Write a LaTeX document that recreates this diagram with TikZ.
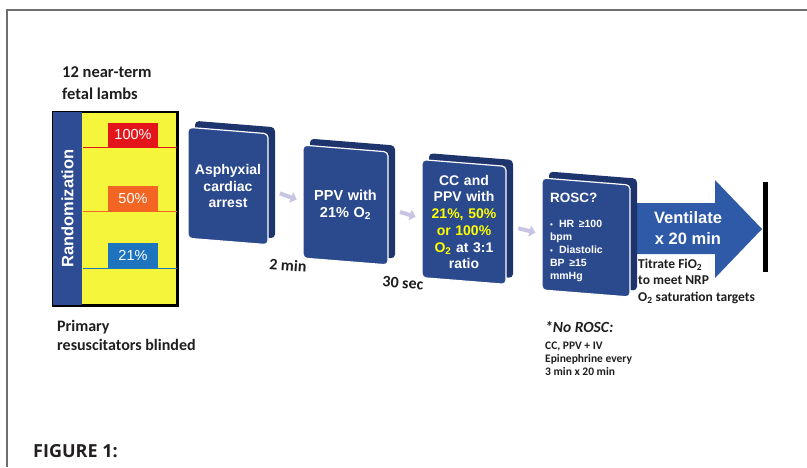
\documentclass[tikz,border=0pt]{standalone}
\usepackage{fontspec}
\setmainfont{Carlito}
\newfontfamily\arial{Liberation Sans}
\newfontfamily\figfont{Open Sans}
\usetikzlibrary{arrows.meta,calc}
\definecolor{cardblue}{RGB}{43,74,142}
\definecolor{slabblue}{RGB}{30,52,108}
\definecolor{arrowblue}{RGB}{46,90,168}
\definecolor{stripblue}{RGB}{46,76,148}
\definecolor{yel}{RGB}{245,245,60}
\definecolor{redc}{RGB}{227,21,27}
\definecolor{orc}{RGB}{242,101,34}
\definecolor{bluec}{RGB}{30,115,190}
\definecolor{lav}{RGB}{200,196,228}
\definecolor{framegray}{RGB}{110,110,110}
\definecolor{txt}{RGB}{30,30,30}
\definecolor{ytext}{RGB}{255,255,0}
\definecolor{figtxt}{RGB}{35,31,32}
\newcommand\mycard[5]{%
 \begin{scope}[shift={#2}, yslant=-0.08, transform shape]
  \node[slab, minimum width=#3pt, minimum height=#4pt] (#1s) at (7,-7) {};
  \node[card, minimum width=#3pt, minimum height=#4pt] (#1) at (0,0) {};
 \end{scope}
 \node[cardtxt] (#1t) at (#1.center) {#5};}
\begin{document}
\begin{tikzpicture}[x=1pt,y=-1pt,
  card/.style={fill=cardblue, draw=white, line width=1.2pt, rounded corners=4pt, inner sep=0pt},
  cardtxt/.style={inner sep=0pt, text=white, font=\arial\bfseries\fontsize{14}{16.5}\selectfont, align=center, text width=76pt},
  slab/.style={fill=slabblue, rounded corners=4pt, inner sep=0pt},
  lbl/.style={text=txt, font=\bfseries\fontsize{14}{19}\selectfont, align=left, inner sep=0pt},
  pbox/.style={minimum width=50pt, inner sep=0pt, text=white, font=\arial\fontsize{14.5}{15}\selectfont},
  conn/.style={lav, line width=4pt, -{Triangle[length=6pt,width=11pt]}, shorten <=12pt, shorten >=6pt},
]
\useasboundingbox (0,0) rectangle (807,467);
% frame
\draw[framegray, line width=1.5pt] (7,467) -- (7,10) -- (807,10);

% randomization block
\node[draw=black, line width=1.5pt, fill=yel, minimum width=124pt, minimum height=193pt, inner sep=0pt] (rbox) at (115,208.5) {};
\node[fill=stripblue, minimum width=30pt, minimum height=193pt, inner sep=0pt, anchor=west] (strip) at (rbox.west) {};
\node[rotate=90, text=white, font=\arial\bfseries\fontsize{16.5}{18}\selectfont] (rtext) at (strip.center) {Randomization};
\node[pbox, fill=redc, minimum height=24pt] (p100) at (133,135) {100\%};
\node[pbox, fill=orc, minimum height=26pt] (p50) at (133,198.5) {50\%};
\node[pbox, fill=bluec, minimum height=25pt] (p21) at (133,255.5) {21\%};
\draw[redc, line width=1.2pt] (strip.east |- p100.south) -- (rbox.east |- p100.south);
\draw[orc, line width=1.2pt] (strip.east |- p50.south) -- (rbox.east |- p50.south);
\draw[bluec, line width=1.2pt] (strip.east |- p21.south) -- (rbox.east |- p21.south);
\draw[line width=1.5pt] (rbox.north west) rectangle (rbox.south east);

\node[lbl, font=\bfseries\fontsize{16.5}{22.5}\selectfont, anchor=north west] (lambs) at (62,66) {12 near-term\\fetal lambs};
\node[lbl, font=\bfseries\fontsize{16}{19}\selectfont, anchor=north west] (blind) at (57,320) {Primary\\resuscitators blinded};

% arrow
\fill[arrowblue] (635,203) -- (715,203) -- (715,180) -- (762,229) -- (715,278) -- (715,254) -- (635,254) -- cycle;
\node[text=white, font=\arial\bfseries\fontsize{16.5}{21}\selectfont, align=center] (vent) at (688,228) {Ventilate\\x 20 min};
\node[fill=black, minimum width=5pt, minimum height=90pt, inner sep=0pt] (bar) at (765.5,227) {};

% cards
\mycard{c1}{(228,186)}{80}{111}{Asphyxial\\cardiac\\arrest}
\mycard{c2}{(345.5,205)}{85}{113}{\fontsize{14.5}{16.5}\selectfont PPV with\\21\% O\textsubscript{2}}
\mycard{c3}{(464,222)}{84}{118}{\fontsize{14}{16.8}\selectfont CC and\\PPV with\\\textcolor{ytext}{21\%, 50\%}\\\textcolor{ytext}{or 100\%}\\\textcolor{ytext}{O\textsubscript{2}} at 3:1\\ratio}
\mycard{c4}{(586,237.5)}{88}{112}{\raisebox{7pt}{\parbox{72pt}{\raggedright
 \fontsize{13.5}{14}\selectfont ROSC?\par\vspace{12pt}
 \fontsize{10.5}{13}\selectfont
 \hangindent=9pt\makebox[9pt][l]{\fontsize{8}{8}\selectfont\textbullet}HR ≥100\\bpm\par
 \hangindent=9pt\makebox[9pt][l]{\fontsize{8}{8}\selectfont\textbullet}Diastolic\\BP ≥15\\mmHg\par}}}

% connectors
\draw[conn] (c1.east) -- (c2.west);
\draw[conn] (c2.east) -- (c3.west);
\draw[conn] (c3.east) -- (c4.west);

% time labels
\node[lbl, font=\bfseries\fontsize{16}{17}\selectfont, rotate=-4] (t2) at (288,265) {2 min};
\node[lbl, font=\bfseries\fontsize{16}{17}\selectfont, rotate=-4] (t30) at (403,283) {30 sec};

% right texts
\node[lbl, font=\bfseries\fontsize{13.5}{16.5}\selectfont, anchor=north west] (titr) at (638,258.5) {Titrate FiO\textsubscript{2}\\to meet NRP\\O\textsubscript{2} saturation targets};
\node[lbl, font=\bfseries\itshape\fontsize{15.5}{16}\selectfont, anchor=north west] (norosc) at (545,321) {*No ROSC:};
\node[lbl, font=\bfseries\fontsize{11.5}{13}\selectfont, anchor=north west] (noroscd) at (545,342) {CC, PPV + IV\\Epinephrine every\\3 min x 20 min};

\node[anchor=north west, inner sep=0pt, text=figtxt, font=\figfont\bfseries\fontsize{18}{20}\selectfont] (fig) at (33,444) {FIGURE 1:};
\end{tikzpicture}
\end{document}
